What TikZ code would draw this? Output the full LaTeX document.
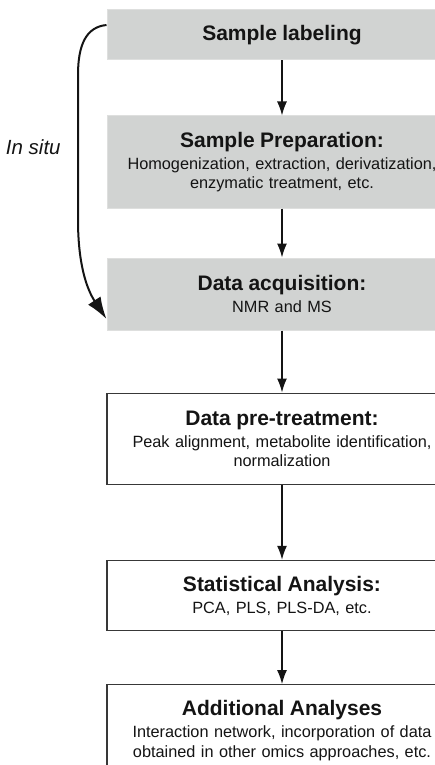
\documentclass[tikz,border=0pt]{standalone}
\usepackage{fontspec}
\setmainfont{Liberation Sans}
\usepackage{tikz}
\usetikzlibrary{arrows.meta, positioning}

\definecolor{boxgray}{RGB}{209,211,210}
\definecolor{boxedge}{RGB}{222,223,222}
\definecolor{inkgray}{RGB}{20,20,20}

\newcommand{\boxhead}[1]{{\fontsize{21}{24}\selectfont\bfseries #1}}

\begin{document}
\begin{tikzpicture}[
  x=1pt, y=1pt,
  stepbox/.style={rectangle, minimum width=350pt, text width=340pt, align=center,
    inner sep=0pt, text=inkgray, font=\fontsize{16.3}{19.5}\selectfont},
  graystep/.style={stepbox, fill=boxgray, draw=boxedge, line width=1pt},
  whitestep/.style={stepbox, fill=white, draw=black!78, line width=1.3pt},
  flowarrow/.style={-{Latex[length=14pt,width=10pt]}, line width=1.4pt, inkgray},
  situarrow/.style={-{Latex[length=22pt,width=15pt]}, line width=2pt, inkgray}
]
\useasboundingbox (0,0) rectangle (435,-765);

% Wet lab steps
\node[graystep, minimum height=50pt] (label) at (282,-35) {\boxhead{Sample labeling}};
\node[graystep, minimum height=92pt, below=55pt of label] (prep)
  {\boxhead{Sample Preparation:}\\[2.5pt]Homogenization, extraction, derivatization,\\enzymatic treatment, etc.};
\node[graystep, minimum height=72pt, below=49pt of prep] (acq)
  {\boxhead{Data acquisition:}\\[2.5pt]NMR and MS};

% Data analysis steps
\node[whitestep, minimum height=91pt, below=62pt of acq] (pretreat)
  {\boxhead{Data pre-treatment:}\\[2.5pt]Peak alignment, metabolite identification,\\normalization};
\node[whitestep, minimum height=70pt, below=75pt of pretreat] (stats)
  {\boxhead{Statistical Analysis:}\\[2.5pt]PCA, PLS, PLS-DA, etc.};
\node[whitestep, minimum height=92pt, below=53pt of stats] (extra)
  {\boxhead{Additional Analyses}\\[2.5pt]Interaction network, incorporation of data\\obtained in other omics approaches, etc.};

\draw[flowarrow] (label) -- (prep);
\draw[flowarrow] (prep) -- (acq);
\draw[flowarrow] (acq) -- (pretreat);
\draw[flowarrow] (pretreat) -- (stats);
\draw[flowarrow] (stats) -- (extra);

% In situ shortcut
\draw[situarrow] ([yshift=10pt]label.west) .. controls (86,-27) and (78,-45) .. (78,-75)
  -- node[left=13pt, font=\fontsize{20.5}{24}\selectfont\itshape, text=inkgray] (situ) {In situ} (78,-220)
  .. controls (78,-262) and (86,-288) .. ([yshift=-25pt]acq.west);

\end{tikzpicture}
\end{document}
